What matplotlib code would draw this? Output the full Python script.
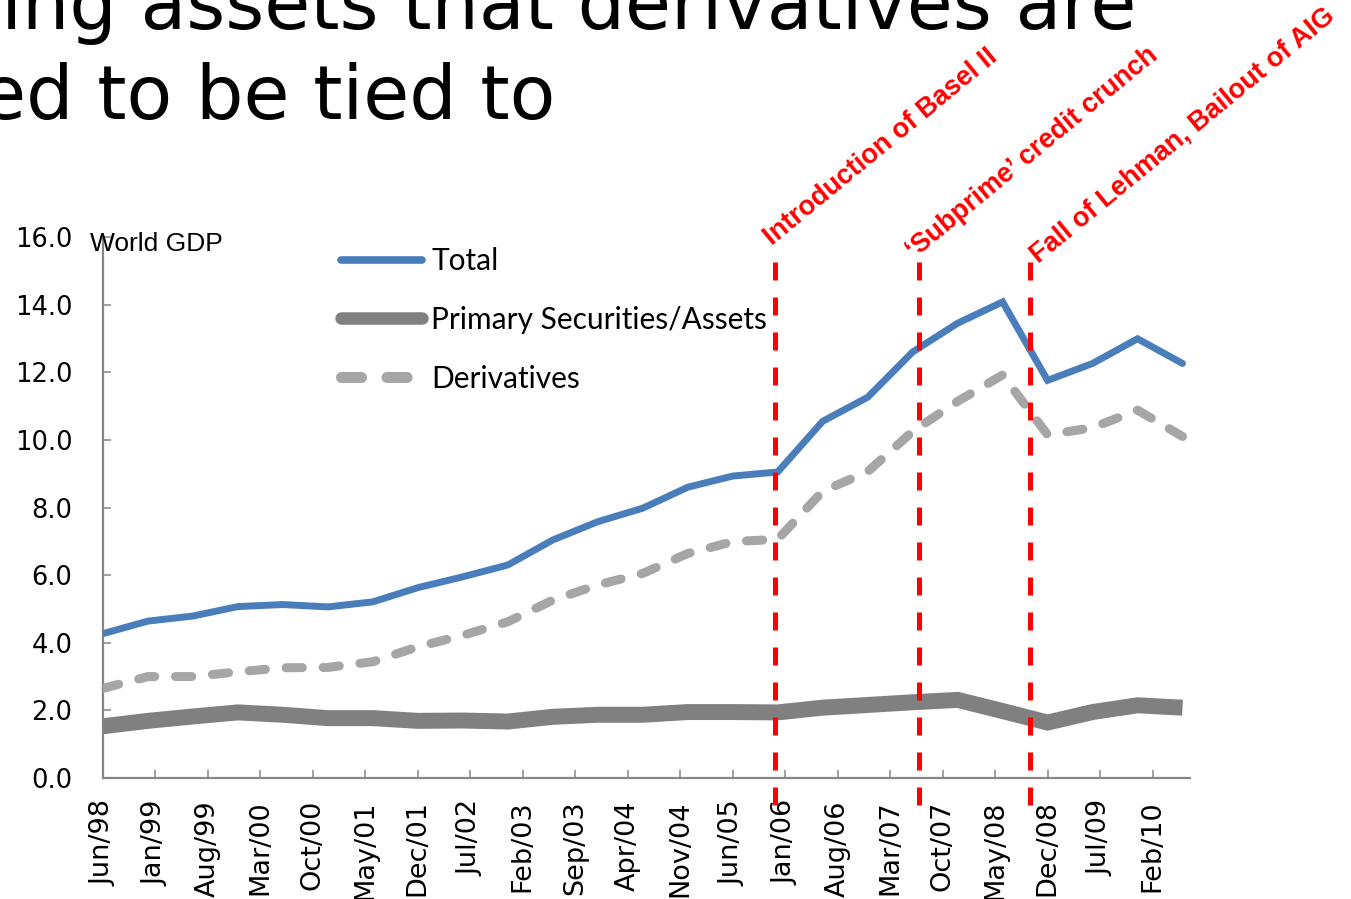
import matplotlib
matplotlib.use("Agg")
import matplotlib.pyplot as plt

# Semi-annual observations, Jun/98 .. Jun/10, as multiples of World GDP
months = [6 * i for i in range(25)]
total = [4.27, 4.64, 4.79, 5.07, 5.13, 5.06, 5.21, 5.63, 5.95, 6.30, 7.04, 7.58, 7.98,
         8.60, 8.93, 9.05, 10.55, 11.26, 12.60, 13.45, 14.08, 11.76, 12.26, 12.99, 12.26]
primary = [1.53, 1.69, 1.82, 1.94, 1.87, 1.77, 1.77, 1.69, 1.70, 1.67, 1.81, 1.87, 1.87,
           1.95, 1.95, 1.94, 2.08, 2.16, 2.24, 2.31, 1.98, 1.64, 1.95, 2.15, 2.08]
derivatives = [2.65, 3.00, 3.00, 3.14, 3.26, 3.27, 3.44, 3.88, 4.22, 4.62, 5.26, 5.71, 6.05,
               6.64, 6.99, 7.06, 8.48, 9.06, 10.25, 11.14, 11.92, 10.15, 10.36, 10.88, 10.10]

tick_months = [7 * k for k in range(21)]
tick_labels = ["Jun/98", "Jan/99", "Aug/99", "Mar/00", "Oct/00", "May/01", "Dec/01",
               "Jul/02", "Feb/03", "Sep/03", "Apr/04", "Nov/04", "Jun/05", "Jan/06",
               "Aug/06", "Mar/07", "Oct/07", "May/08", "Dec/08", "Jul/09", "Feb/10"]
y_ticks = [0, 2, 4, 6, 8, 10, 12, 14, 16]

event_months = [89.6, 108.8, 123.7]
event_labels = ["Introduction of Basel II", "\u2018Subprime\u2019 credit crunch",
                "Fall of Lehman, Bailout of AIG"]

W, H = 1351, 899
fig = plt.figure(figsize=(W / 100, H / 100), dpi=100)
fig.patch.set_facecolor("white")

def fx(px):
    return px / W

def fy(py):
    return 1 - py / H

ax = fig.add_axes([fx(103), fy(778), fx(1190) - fx(103), fy(237) - fy(778)])
ax.set_xlim(0, 145)
ax.set_ylim(0, 16)

axis_grey = "#868686"
for side in ("top", "right"):
    ax.spines[side].set_visible(False)
for side in ("left", "bottom"):
    ax.spines[side].set_color(axis_grey)
    ax.spines[side].set_linewidth(1.6)

ax.set_yticks(y_ticks, [f"{v:.1f}" for v in y_ticks])
ax.set_xticks(tick_months, tick_labels, rotation=90)
ax.tick_params(axis="both", direction="in", length=6, width=1.1, color=axis_grey,
               labelcolor="black")
ax.tick_params(axis="y", pad=22, labelsize=18.5)
ax.tick_params(axis="x", pad=16, labelsize=19.5)
for lab in ax.get_xticklabels() + ax.get_yticklabels():
    lab.set_family("DejaVu Sans")

# Series
l_tot, = ax.plot(months, total, color="#4A7EBB", lw=5.0, solid_joinstyle="miter",
                 solid_capstyle="round", label="Total", zorder=4)
l_pri, = ax.plot(months, primary, color="#808080", lw=11.5, solid_joinstyle="miter",
                 solid_capstyle="butt", label="Primary Securities/Assets", zorder=3)
l_der, = ax.plot(months, derivatives, color="#A6A6A6", lw=6.5, linestyle=(0, (1.8, 2.3)),
                 dash_capstyle="round", dash_joinstyle="round", label="Derivatives", zorder=3)

# Event markers
y_top = (778 - 262) / 33.81
y_bot = (778 - 805) / 33.81
for m in event_months:
    ax.plot([m, m], [y_top, y_bot], color="#FF0000", lw=3.6, linestyle=(0, (3.6, 3.4)),
            dash_capstyle="butt", clip_on=False, zorder=5)

label_anchor = [(772, 246), (914, 259), (1038, 264)]
for (px, py), text in zip(label_anchor, event_labels):
    fig.text(fx(px), fy(py), text, rotation=39.5, rotation_mode="anchor",
             ha="left", va="baseline", color="#FF0000", fontsize=19.5,
             fontweight="bold", family="Liberation Sans")

# Legend
leg = ax.legend(handles=[l_tot, l_pri, l_der], loc="upper left",
                bbox_to_anchor=(fx(341), fy(247)), bbox_transform=fig.transFigure,
                frameon=False, borderpad=0, borderaxespad=0, handlelength=2.7,
                handletextpad=0.32, labelspacing=1.03,
                prop={"family": "Lato", "size": 21.5})
for line, lw in zip(leg.get_lines(), [5.5, 9.0, 8.0]):
    line.set_linewidth(lw)
    line.set_solid_capstyle("round")
    line.set_dash_capstyle("round")

fig.text(fx(90), fy(251), "World GDP", fontsize=19, family="Liberation Sans",
         ha="left", va="baseline", color="black")

# Slide heading
fig.text(fx(1136), fy(29), "Underlying assets that derivatives are", fontsize=53.8,
         family="DejaVu Sans", ha="right", va="baseline", color="black")
fig.text(fx(555), fy(119), "supposed to be tied to", fontsize=53.8,
         family="DejaVu Sans", ha="right", va="baseline", color="black")

fig.savefig("out.png", dpi=100, facecolor="white")
